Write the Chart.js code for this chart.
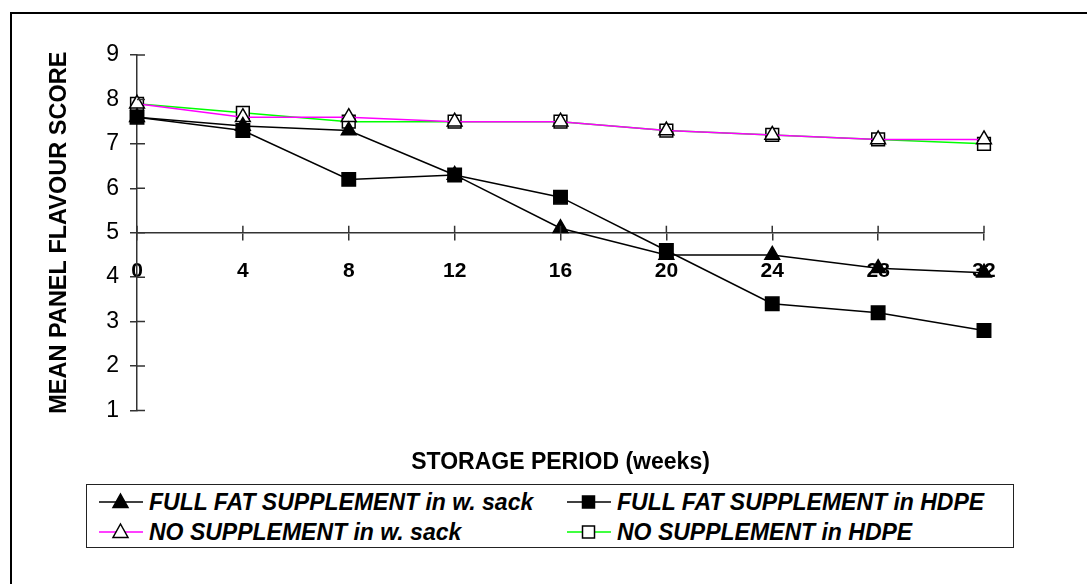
<!DOCTYPE html>
<html>
<head>
<meta charset="utf-8">
<script src="https://cdn.jsdelivr.net/npm/chart.js@4/dist/chart.umd.min.js"></script>
<style>
    html, body { margin: 0; padding: 0; background: #fff; overflow: hidden; }
    body { width: 1087px; height: 584px; position: relative; font-family: "Liberation Sans", Arial, sans-serif; }
    #frame { position: absolute; left: 10px; top: 12px; width: 1100px; height: 600px; border: 2px solid #000; }
    #chart { position: absolute; left: 0; top: 0; }
    #legend {
        position: absolute; left: 86px; top: 484px; width: 928px; height: 64px;
        border: 1.5px solid #222; background: #fff; box-sizing: border-box;
        font-weight: bold; font-style: italic; font-size: 23px; color: #000;
    }
    .item { position: absolute; display: flex; align-items: center; height: 26px; white-space: nowrap; }
    .item svg { margin-right: 6px; }
</style>
</head>
<body>
<div id="frame"></div>
<canvas id="chart" width="1087" height="584"></canvas>
<div id="legend"></div>
<script>
const weeks = [0, 4, 8, 12, 16, 20, 24, 28, 32];
const seriesLabels = [
    'FULL FAT SUPPLEMENT in w. sack',
    'FULL FAT SUPPLEMENT in HDPE',
    'NO SUPPLEMENT in w. sack',
    'NO SUPPLEMENT in HDPE'
];
const fullFatSack = [7.6, 7.4, 7.3, 6.3, 5.1, 4.5, 4.5, 4.2, 4.1];
const fullFatHdpe = [7.6, 7.3, 6.2, 6.3, 5.8, 4.6, 3.4, 3.2, 2.8];
const noSuppSack = [7.9, 7.6, 7.6, 7.5, 7.5, 7.3, 7.2, 7.1, 7.1];
const noSuppHdpe = [7.9, 7.7, 7.5, 7.5, 7.5, 7.3, 7.2, 7.1, 7.0];

const styles = [
    { line: '#000000', point: 'triangle', fill: '#000000', radius: 8.5 },
    { line: '#000000', point: 'rect', fill: '#000000', radius: 9.5 },
    { line: '#ff00ff', point: 'triangle', fill: '#ffffff', radius: 8.5 },
    { line: '#00ff00', point: 'rect', fill: '#ffffff', radius: 9 }
];

const seriesValues = [fullFatSack, fullFatHdpe, noSuppSack, noSuppHdpe];

const datasets = seriesValues.map((vals, i) => ({
    label: seriesLabels[i],
    data: vals.map((v, j) => ({ x: weeks[j], y: v })),
    borderColor: styles[i].line,
    borderWidth: 1.5,
    pointStyle: styles[i].point,
    pointRadius: styles[i].radius,
    pointBackgroundColor: styles[i].fill,
    pointBorderColor: '#000',
    pointBorderWidth: 1.5,
    tension: 0,
    clip: false
}));

// inner half of the crossing tick marks
const crossTicks = {
    id: 'crossTicks',
    afterDraw(chart) {
        const ctx = chart.ctx;
        const x = chart.scales.x, y = chart.scales.y;
        const axisY = y.getPixelForValue(5);
        const axisX = x.getPixelForValue(0);
        ctx.save();
        ctx.strokeStyle = '#333';
        ctx.lineWidth = 1.5;
        ctx.beginPath();
        x.ticks.forEach(t => {
            const px = x.getPixelForValue(t.value);
            ctx.moveTo(px, axisY - 7);
            ctx.lineTo(px, axisY);
        });
        y.ticks.forEach(t => {
            const py = y.getPixelForValue(t.value);
            ctx.moveTo(axisX, py);
            ctx.lineTo(axisX + 8, py);
        });
        ctx.stroke();
        ctx.restore();
    }
};

new Chart(document.getElementById('chart'), {
    type: 'line',
    data: { datasets },
    plugins: [crossTicks],
    options: {
        responsive: false,
        animation: false,
        layout: { padding: { left: 40, right: 103, top: 55, bottom: 108 } },
        plugins: {
            legend: { display: false },
            tooltip: { enabled: false },
            title: {
                display: true,
                position: 'bottom',
                fullSize: false,
                text: 'STORAGE PERIOD (weeks)',
                color: '#000',
                font: { family: 'Liberation Sans', size: 23, weight: 'bold' },
                padding: { top: 38, bottom: 0 }
            }
        },
        scales: {
            x: {
                type: 'linear',
                min: 0,
                max: 32,
                position: { y: 5 },
                afterFit: s => { s.height = 0; },
                ticks: {
                    stepSize: 4,
                    color: '#000',
                    padding: 19,
                    font: { family: 'Liberation Sans', size: 21, weight: 'bold' }
                },
                grid: { drawOnChartArea: false, tickLength: 7, color: '#333', lineWidth: 1.5 },
                border: { color: '#333', width: 1.5 }
            },
            y: {
                min: 1,
                max: 9,
                afterFit: s => { s.width = 97; },
                ticks: {
                    stepSize: 1,
                    color: '#000',
                    padding: 11,
                    font: { family: 'Liberation Sans', size: 23 }
                },
                grid: { drawOnChartArea: false, tickLength: 7, color: '#333', lineWidth: 1.5 },
                border: { color: '#333', width: 1.5 },
                title: {
                    display: true,
                    text: 'MEAN PANEL FLAVOUR SCORE',
                    color: '#000',
                    font: { family: 'Liberation Sans', size: 23.5, weight: 'bold' },
                    padding: { top: 5, bottom: 4 }
                }
            }
        }
    }
});

// HTML legend: line + marker sample, two columns
const legend = document.getElementById('legend');
const slots = [
    { left: 12, top: 4 }, { left: 480, top: 4 },
    { left: 12, top: 34 }, { left: 480, top: 34 }
];
seriesLabels.forEach((label, i) => {
    const s = styles[i];
    let marker;
    if (s.point === 'rect') {
        marker = `<rect x="15.5" y="6" width="12" height="12" fill="${s.fill}" stroke="#000" stroke-width="1.5"/>`;
    } else {
        marker = `<polygon points="21.5,4 29,17.5 14,17.5" fill="${s.fill}" stroke="#000" stroke-width="1.5"/>`;
    }
    const el = document.createElement('div');
    el.className = 'item';
    el.style.left = slots[i].left + 'px';
    el.style.top = slots[i].top + 'px';
    el.innerHTML = `<svg width="44" height="24"><line x1="0" y1="12" x2="44" y2="12" stroke="${s.line}" stroke-width="1.5"/>${marker}</svg><span>${label}</span>`;
    legend.appendChild(el);
});
</script>
</body>
</html>
